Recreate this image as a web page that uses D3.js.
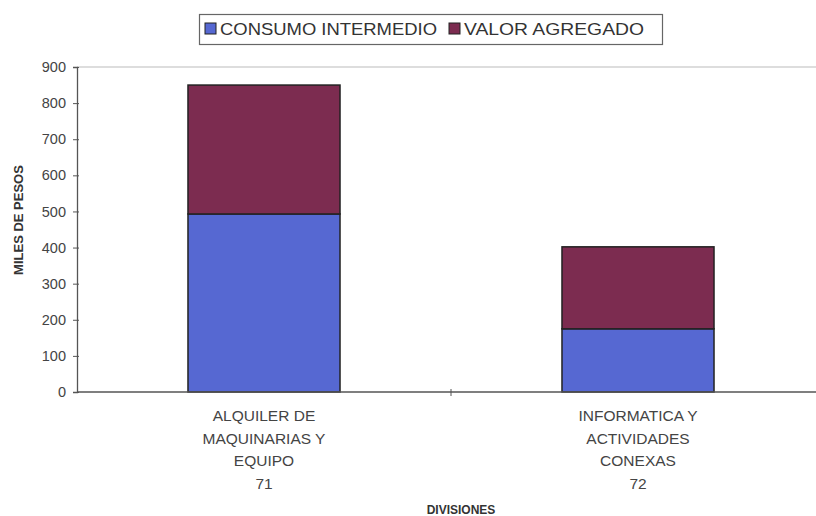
<!DOCTYPE html>
<html>
<head>
<meta charset="utf-8">
<script src="https://cdn.jsdelivr.net/npm/d3@7.9.0/dist/d3.min.js"></script>
<style>
  body { margin: 0; background: #fff; }
  svg { display: block; font-family: "Liberation Sans", Arial, sans-serif; }
</style>
</head>
<body>
<svg id="chart" width="816" height="516"></svg>
<script>
// divisions (multi-line labels) and stacked series
const categories = ['71', '72'];
const catLabels = [
  ['ALQUILER DE', 'MAQUINARIAS Y', 'EQUIPO', '71'],
  ['INFORMATICA Y', 'ACTIVIDADES', 'CONEXAS', '72']
];
const consumoIntermedio = [493, 175];
const valorAgregado = [357, 227];
const seriesNames = ['CONSUMO INTERMEDIO', 'VALOR AGREGADO'];
const seriesColors = ['#5668d2', '#7c2c50'];
const yTicks = [0, 100, 200, 300, 400, 500, 600, 700, 800, 900];

const svg = d3.select('#chart');
const margin = { top: 67, right: -9, bottom: 124, left: 77 };
const width = 816, height = 516;

const x = d3.scaleBand()
  .domain(categories)
  .range([margin.left, width - margin.right])
  .paddingInner(0)
  .paddingOuter(0);

const y = d3.scaleLinear().domain([0, 900]).range([height - margin.bottom, margin.top]);

const rows = categories.map((c, i) => ({ cat: c, ci: consumoIntermedio[i], va: valorAgregado[i] }));
const stacked = d3.stack().keys(['ci', 'va'])(rows);

// plot top border (faint)
svg.append('line')
  .attr('x1', margin.left).attr('x2', width)
  .attr('y1', y(900)).attr('y2', y(900))
  .attr('stroke', '#bbb').attr('stroke-width', 1);

// bars
const barW = x.bandwidth() / 2.46;
svg.append('g')
  .selectAll('g')
  .data(stacked)
  .join('g')
  .attr('fill', (d, i) => seriesColors[i])
  .selectAll('rect')
  .data(d => d)
  .join('rect')
  .attr('x', d => x(d.data.cat) + (x.bandwidth() - barW) / 2)
  .attr('width', barW)
  .attr('y', d => y(d[1]))
  .attr('height', d => y(d[0]) - y(d[1]))
  .attr('stroke', '#222')
  .attr('stroke-width', 1.5);

// y axis
const yAxis = svg.append('g')
  .attr('transform', `translate(${margin.left},0)`)
  .call(d3.axisLeft(y).tickValues(yTicks).tickSize(4).tickPadding(7));
yAxis.select('.domain').attr('stroke', '#555').attr('stroke-width', 1.3);
yAxis.selectAll('.tick line').attr('stroke', '#555').attr('x1', 2).attr('x2', -4);
yAxis.selectAll('.tick text')
  .attr('fill', '#444').style('font-size', '14.5px');

// x axis
const xAxisY = y(0);
svg.append('line')
  .attr('x1', margin.left).attr('x2', width)
  .attr('y1', xAxisY).attr('y2', xAxisY)
  .attr('stroke', '#555').attr('stroke-width', 1.3);
svg.append('line')
  .attr('x1', x(categories[1])).attr('x2', x(categories[1]))
  .attr('y1', xAxisY - 3).attr('y2', xAxisY + 4)
  .attr('stroke', '#555');

// category labels
categories.forEach((c, i) => {
  const t = svg.append('text')
    .attr('x', x(c) + x.bandwidth() / 2)
    .attr('y', 421)
    .attr('text-anchor', 'middle')
    .attr('fill', '#444')
    .style('font-size', '15.5px');
  catLabels[i].forEach((line, k) => {
    t.append('tspan')
      .attr('x', x(c) + x.bandwidth() / 2)
      .attr('y', 421 + k * 22.5)
      .text(line);
  });
});

// axis titles
svg.append('text')
  .attr('x', 461).attr('y', 514)
  .attr('text-anchor', 'middle')
  .attr('fill', '#333')
  .style('font-size', '12px').style('font-weight', 'bold')
  .text('DIVISIONES');

svg.append('text')
  .attr('transform', `translate(23,220) rotate(-90)`)
  .attr('text-anchor', 'middle')
  .attr('fill', '#333')
  .style('font-size', '13px').style('font-weight', 'bold')
  .text('MILES DE PESOS');

// legend
const legend = svg.append('g');
legend.append('rect')
  .attr('x', 199.5).attr('y', 14.5).attr('width', 463).attr('height', 30)
  .attr('fill', '#fff').attr('stroke', '#666').attr('stroke-width', 1.2);
const legendX = [205, 449];
const legendTextW = [217, 180];
seriesNames.forEach((name, i) => {
  legend.append('rect')
    .attr('x', legendX[i]).attr('y', 23).attr('width', 11).attr('height', 11)
    .attr('fill', seriesColors[i]).attr('stroke', '#222');
  legend.append('text')
    .attr('x', legendX[i] + 15).attr('y', 35)
    .attr('fill', '#333')
    .attr('textLength', legendTextW[i])
    .attr('lengthAdjust', 'spacingAndGlyphs')
    .style('font-size', '17px')
    .text(name);
});
</script>
</body>
</html>
